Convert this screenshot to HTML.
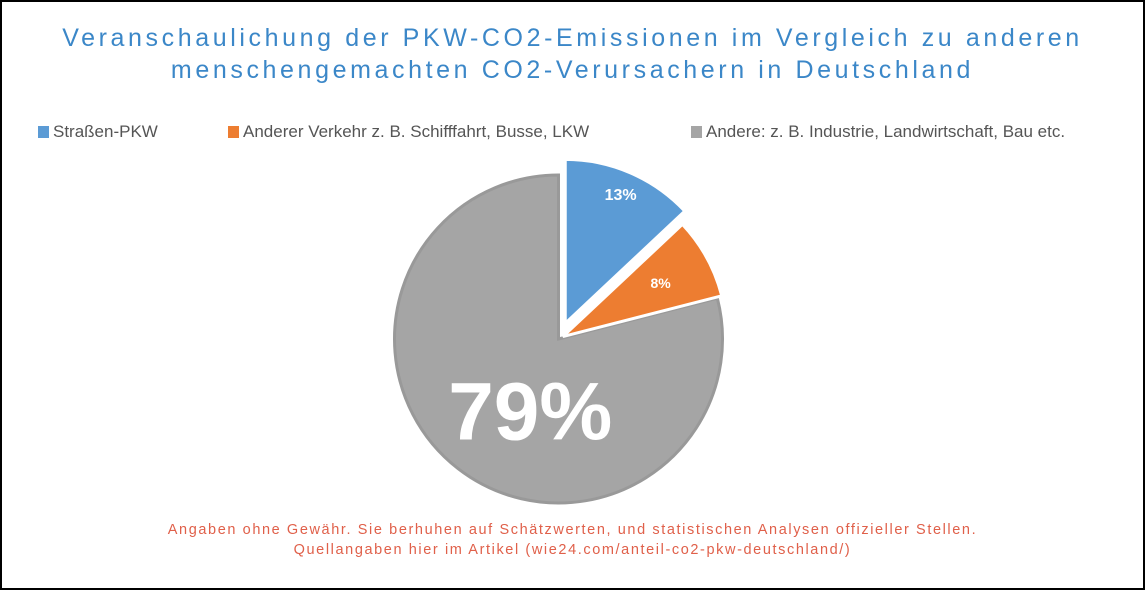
<!DOCTYPE html>
<html><head><meta charset="utf-8">
<style>
html,body{margin:0;padding:0;background:#fff}
#wrap{position:relative;width:1145px;height:590px;box-sizing:border-box;border:2px solid #000;font-family:"Liberation Sans",sans-serif;overflow:hidden}
.title{position:absolute;left:0;width:1141px;text-align:center;color:#3b87c8;font-size:25px;letter-spacing:3.6px;line-height:32px;top:20px}
.legend{position:absolute;top:120px;font-size:17px;color:#555;white-space:nowrap}
.legend span.sw{display:inline-block;width:11px;height:12px;margin-right:4px;vertical-align:-1px}
.foot{position:absolute;left:0;width:1141px;text-align:center;color:#e0604a;font-size:14.5px;letter-spacing:1.6px;line-height:20px;top:518px}
</style></head><body>
<div id="wrap">
<div class="title">Veranschaulichung der PKW-CO2-Emissionen im Vergleich zu anderen<br>menschengemachten CO2-Verursachern in Deutschland</div>
<div class="legend" style="left:36px"><span class="sw" style="background:#5b9bd5"></span>Straßen-PKW</div>
<div class="legend" style="left:226px"><span class="sw" style="background:#ed7d31"></span>Anderer Verkehr z. B. Schifffahrt, Busse, LKW</div>
<div class="legend" style="left:689px"><span class="sw" style="background:#a5a5a5"></span>Andere: z. B. Industrie, Landwirtschaft, Bau etc.</div>
<svg id="pie" width="1145" height="590" style="position:absolute;left:-2px;top:-2px"></svg>
<div class="foot">Angaben ohne Gewähr. Sie berhuhen auf Schätzwerten, und statistischen Analysen offizieller Stellen.<br>Quellangaben hier im Artikel (wie24.com/anteil-co2-pkw-deutschland/)</div>
</div>
<script>
const categories=["Straßen-PKW","Anderer Verkehr","Andere"];
const values=[13,8,79];
const labels=["13%","8%","79%"];
const colors=["#5b9bd5","#ed7d31","#a5a5a5"];
const strokes=["#fff","#fff","#999"];
const explode=[17,5,0];
const labelSize=[16,14,82];
const labelR=[0.85,0.68,0.48];
const cx=558.5,cy=339,r=164;
const svg=document.getElementById('pie');
const NS="http://www.w3.org/2000/svg";
const total=values.reduce((a,b)=>a+b,0);
let acc=0;
const order=[2,0,1];
const slices=values.map((v,i)=>{const a0=acc/total*2*Math.PI;acc+=v;const a1=acc/total*2*Math.PI;return {i,a0,a1};});
order.forEach(k=>{
  const s=slices[k];const i=s.i;
  const mid=(s.a0+s.a1)/2;
  const ox=cx+explode[i]*Math.sin(mid),oy=cy-explode[i]*Math.cos(mid);
  const x0=ox+r*Math.sin(s.a0),y0=oy-r*Math.cos(s.a0);
  const x1=ox+r*Math.sin(s.a1),y1=oy-r*Math.cos(s.a1);
  const large=(s.a1-s.a0)>Math.PI?1:0;
  const p=document.createElementNS(NS,'path');
  p.setAttribute('d',`M${ox},${oy} L${x0},${y0} A${r},${r} 0 ${large} 1 ${x1},${y1} Z`);
  p.setAttribute('fill',colors[i]);
  p.setAttribute('stroke',strokes[i]);
  p.setAttribute('stroke-width',3);
  
  
  svg.appendChild(p);
});
slices.forEach(s=>{
  const i=s.i;const mid=(s.a0+s.a1)/2;
  const ox=cx+explode[i]*Math.sin(mid),oy=cy-explode[i]*Math.cos(mid);
  let lx=ox+labelR[i]*r*Math.sin(mid),ly=oy-labelR[i]*r*Math.cos(mid);
  if(i===2){lx+=20;ly+=11;}
  const t=document.createElementNS(NS,'text');
  t.setAttribute('x',lx);t.setAttribute('y',ly);
  t.setAttribute('text-anchor','middle');t.setAttribute('dominant-baseline','central');
  t.setAttribute('fill','#fff');t.setAttribute('font-weight','bold');
  t.setAttribute('font-family','"Liberation Sans",sans-serif');
  t.setAttribute('font-size',labelSize[i]);
  t.textContent=labels[i];
  
  
  svg.appendChild(t);
});
</script>
</body></html>
